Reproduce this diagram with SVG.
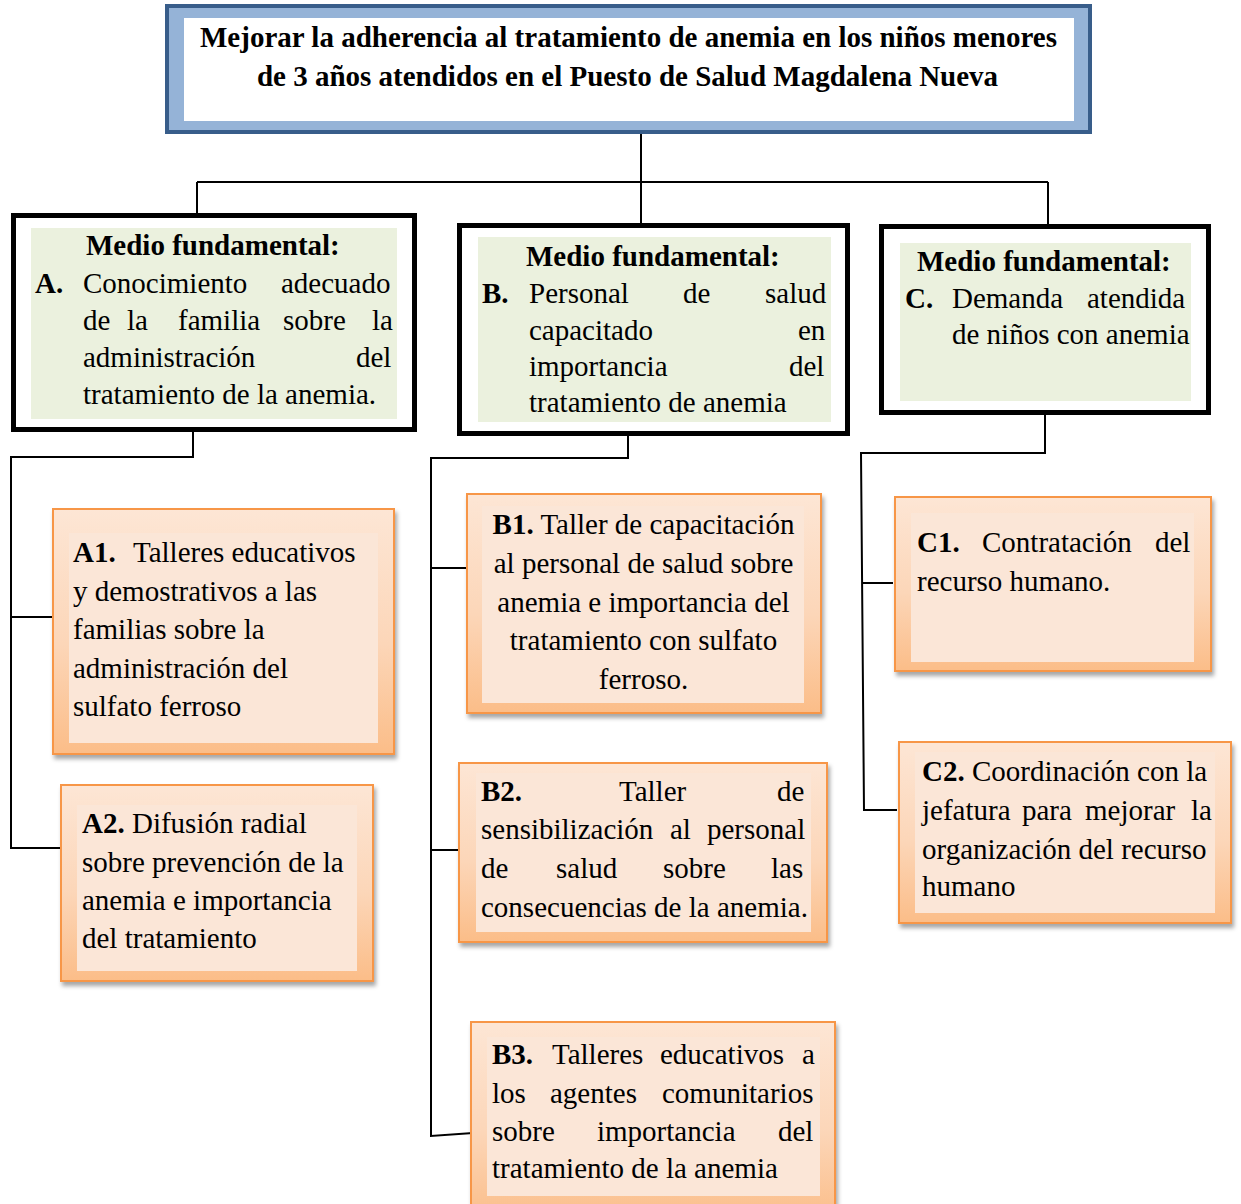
<svg xmlns="http://www.w3.org/2000/svg" width="1241" height="1204" viewBox="0 0 1241 1204">
<defs>
<linearGradient id="og" x1="0" y1="0" x2="0" y2="1">
<stop offset="0" stop-color="#fde6d5"/>
<stop offset="0.55" stop-color="#fcd6b8"/>
<stop offset="1" stop-color="#fbbd88"/>
</linearGradient>
<filter id="sh" x="-10%" y="-10%" width="125%" height="125%">
<feDropShadow dx="2" dy="4" stdDeviation="2" flood-color="#000" flood-opacity="0.35"/>
</filter>
<style>
text{font-family:"Liberation Serif","Times New Roman",serif;font-size:29px;fill:#000}
.b{font-weight:bold}
.blk{fill:#fff;stroke:#000;stroke-width:5}
.grn{fill:#ebf1de}
.ob{fill:url(#og);stroke:#f79646;stroke-width:2;filter:url(#sh)}
.oi{fill:#fbe6d7}
.c{fill:none;stroke:#000;stroke-width:2}
</style>
</defs>
<rect width="1241" height="1204" fill="#fff"/>

<g id="connectors">
<path class="c" d="M641 134 V223"/>
<path class="c" d="M197 182 H1048"/>
<path class="c" d="M197 182 V213"/>
<path class="c" d="M1048 182 V224"/>
<path class="c" d="M193 432 V457 H11 V848 H61"/>
<path class="c" d="M11 617 H60"/>
<path class="c" d="M628 436 V458 H431 V1136 L473 1133"/>
<path class="c" d="M431 568 H466"/>
<path class="c" d="M431 850 H459"/>
<path class="c" d="M1045 415 V453 H861 L864 810 H897"/>
<path class="c" d="M862 583 H893"/>
</g>

<g id="goal">
<rect x="165" y="4" width="927" height="130" fill="#385d8a"/>
<rect x="169" y="8" width="919" height="122" fill="#95b3d7"/>
<rect x="184" y="18" width="890" height="103" fill="#fff"/>
<text class="b" x="628.5" y="47" text-anchor="middle">Mejorar la adherencia al tratamiento de anemia en los niños menores</text>
<text class="b" x="627.5" y="86" text-anchor="middle">de 3 años atendidos en el Puesto de Salud Magdalena Nueva</text>
</g>

<g id="medioA">
<rect class="blk" x="13.5" y="215.5" width="401" height="214"/>
<rect class="grn" x="31" y="228" width="366" height="191"/>
<text class="b" x="86" y="255">Medio fundamental:</text>
<text class="b" x="35" y="293">A.</text>
<text y="293"><tspan x="83">Conocimiento</tspan><tspan x="281">adecuado</tspan></text>
<text y="330"><tspan x="83">de</tspan><tspan x="127">la</tspan><tspan x="178">familia</tspan><tspan x="283">sobre</tspan><tspan x="372">la</tspan></text>
<text y="367"><tspan x="83">administración</tspan><tspan x="356">del</tspan></text>
<text x="83" y="404">tratamiento de la anemia.</text>
</g>

<g id="medioB">
<rect class="blk" x="459.5" y="225.5" width="388" height="208"/>
<rect class="grn" x="478" y="237" width="353" height="185"/>
<text class="b" x="526" y="266">Medio fundamental:</text>
<text class="b" x="482" y="303">B.</text>
<text y="303"><tspan x="529">Personal</tspan><tspan x="683">de</tspan><tspan x="765">salud</tspan></text>
<text y="340"><tspan x="529">capacitado</tspan><tspan x="798">en</tspan></text>
<text y="376"><tspan x="529">importancia</tspan><tspan x="789">del</tspan></text>
<text x="529" y="412">tratamiento de anemia</text>
</g>

<g id="medioC">
<rect class="blk" x="881.5" y="226.5" width="327" height="186"/>
<rect class="grn" x="900" y="243" width="291" height="158"/>
<text class="b" x="917" y="271">Medio fundamental:</text>
<text class="b" x="905" y="308">C.</text>
<text y="308"><tspan x="952">Demanda</tspan><tspan x="1087">atendida</tspan></text>
<text x="952" y="344">de niños con anemia</text>
</g>

<g id="A1">
<rect class="ob" x="53" y="509" width="341" height="245"/>
<rect class="oi" x="69" y="533" width="309" height="210"/>
<text y="562"><tspan class="b" x="73">A1.</tspan><tspan x="133">Talleres educativos</tspan></text>
<text x="73" y="601">y demostrativos a las</text>
<text x="73" y="639">familias sobre la</text>
<text x="73" y="678">administración del</text>
<text x="73" y="716">sulfato ferroso</text>
</g>

<g id="A2">
<rect class="ob" x="61" y="785" width="312" height="196"/>
<rect class="oi" x="77" y="805" width="280" height="166"/>
<text y="833"><tspan class="b" x="82">A2.</tspan> Difusión radial</text>
<text x="82" y="872">sobre prevención de la</text>
<text x="82" y="910">anemia e importancia</text>
<text x="82" y="948">del tratamiento</text>
</g>

<g id="B1">
<rect class="ob" x="467" y="494" width="354" height="219"/>
<rect class="oi" x="482" y="506" width="322" height="197"/>
<text x="643.5" y="534" text-anchor="middle"><tspan class="b">B1.</tspan> Taller de capacitación</text>
<text x="643.5" y="573" text-anchor="middle">al personal de salud sobre</text>
<text x="643.5" y="612" text-anchor="middle">anemia e importancia del</text>
<text x="643.5" y="650" text-anchor="middle">tratamiento con sulfato</text>
<text x="643.5" y="689" text-anchor="middle">ferroso.</text>
</g>

<g id="B2">
<rect class="ob" x="459" y="763" width="368" height="179"/>
<rect class="oi" x="476" y="773" width="335" height="159"/>
<text y="801"><tspan class="b" x="481">B2.</tspan><tspan x="619">Taller</tspan><tspan x="777">de</tspan></text>
<text y="839"><tspan x="481">sensibilización</tspan><tspan x="670">al</tspan><tspan x="707">personal</tspan></text>
<text y="878"><tspan x="481">de</tspan><tspan x="556">salud</tspan><tspan x="663">sobre</tspan><tspan x="771">las</tspan></text>
<text x="481" y="917">consecuencias de la anemia.</text>
</g>

<g id="B3">
<rect class="ob" x="471" y="1022" width="364" height="200"/>
<rect class="oi" x="487" y="1037" width="333" height="159"/>
<text y="1064"><tspan class="b" x="492">B3.</tspan><tspan x="552">Talleres</tspan><tspan x="660">educativos</tspan><tspan x="802">a</tspan></text>
<text y="1103"><tspan x="492">los</tspan><tspan x="550">agentes</tspan><tspan x="662">comunitarios</tspan></text>
<text y="1141"><tspan x="492">sobre</tspan><tspan x="597">importancia</tspan><tspan x="778">del</tspan></text>
<text x="492" y="1178">tratamiento de la anemia</text>
</g>

<g id="C1">
<rect class="ob" x="895" y="497" width="316" height="174"/>
<rect class="oi" x="911" y="513" width="283" height="149"/>
<text y="552"><tspan class="b" x="917">C1.</tspan><tspan x="982">Contratación</tspan><tspan x="1155">del</tspan></text>
<text x="917" y="591">recurso humano.</text>
</g>

<g id="C2">
<rect class="ob" x="899" y="742" width="332" height="181"/>
<rect class="oi" x="915" y="752" width="300" height="161"/>
<text y="781"><tspan class="b" x="922">C2.</tspan> Coordinación con la</text>
<text y="820"><tspan x="922">jefatura</tspan><tspan x="1022">para</tspan><tspan x="1085">mejorar</tspan><tspan x="1191">la</tspan></text>
<text x="922" y="859">organización del recurso</text>
<text x="922" y="896">humano</text>
</g>
</svg>
